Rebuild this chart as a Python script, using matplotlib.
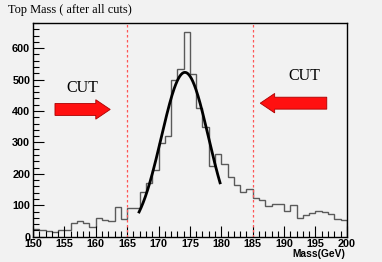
import numpy as np
import matplotlib
matplotlib.use("Agg")
import matplotlib.pyplot as plt
from matplotlib.patches import Polygon
from matplotlib.ticker import MultipleLocator
from matplotlib.transforms import ScaledTranslation

# histogram contents, 1 GeV bins from 150 to 200
bin_lo = 150
counts = [24, 21, 19, 14, 21, 21, 42, 49, 42, 30,
          59, 53, 51, 95, 55, 90, 92, 143, 170, 212,
          297, 320, 498, 533, 651, 517, 409, 350, 226, 262,
          231, 191, 164, 143, 151, 122, 116, 98, 103, 105,
          83, 101, 59, 69, 75, 81, 78, 72, 56, 53]
edges = np.arange(bin_lo, bin_lo + len(counts) + 1)

# gaussian fit on the peak
fit_amp = 523
fit_mean = 174.2
fit_sigma = 3.75
fit_range = (166.9, 179.8)

cut_lines = [165, 185]

bg = "#f2f2f2"
fig = plt.figure(figsize=(3.82, 2.62), dpi=100, facecolor=bg)
ax = fig.add_axes([0.0864, 0.0966, 0.8216, 0.8154], facecolor=bg)

ax.stairs(counts, edges, color="#5a5a5a", lw=1.0)

xf = np.linspace(fit_range[0], fit_range[1], 200)
yf = fit_amp * np.exp(-0.5 * ((xf - fit_mean) / fit_sigma) ** 2)
ax.plot(xf, yf, color="black", lw=2.0)

for c in cut_lines:
    ax.axvline(c, color="#ff5555", ls=(0, (2, 2)), lw=0.9)


def arrow(x_tail, x_tip, y, body_h, head_h, head_len):
    sgn = 1 if x_tip > x_tail else -1
    xb = x_tip - sgn * head_len
    pts = [(x_tail, y - body_h / 2), (xb, y - body_h / 2), (xb, y - head_h / 2),
           (x_tip, y), (xb, y + head_h / 2), (xb, y + body_h / 2),
           (x_tail, y + body_h / 2)]
    ax.add_patch(Polygon(pts, closed=True, facecolor="#ff1010",
                         edgecolor="#aa0000", lw=0.6, zorder=3))


arrow(153.5, 162.3, 405, 38, 62, 2.3)
arrow(196.8, 186.2, 425, 38, 62, 2.3)
ax.text(157.8, 472, "CUT", family="Liberation Serif", fontsize=11.5,
        ha="center", va="center")
ax.text(193.2, 510, "CUT", family="Liberation Serif", fontsize=11.5,
        ha="center", va="center")

ax.set_xlim(150, 200)
ax.set_ylim(0, 680)
ax.xaxis.set_major_locator(MultipleLocator(5))
ax.xaxis.set_minor_locator(MultipleLocator(1))
ax.yaxis.set_major_locator(MultipleLocator(100))
ax.yaxis.set_minor_locator(MultipleLocator(20))
ax.tick_params(which="both", direction="in", top=False, right=False,
               labelsize=7.8, width=0.8)
ax.tick_params(which="major", length=8, pad=2)
ax.tick_params(which="minor", length=4)
fig.canvas.draw()
for lab in ax.get_xticklabels() + ax.get_yticklabels():
    lab.set_fontweight("bold")
    lab.set_family("Liberation Sans")
# nudge the "0" label up a little, like ROOT puts it
ylabs = ax.get_yticklabels()
ylabs[0].set_transform(ylabs[0].get_transform()
                       + ScaledTranslation(0, 3 / 72, fig.dpi_scale_trans))
for s in ax.spines.values():
    s.set_linewidth(1.0)

fig.text(0.021, 0.962, "Top Mass ( after all cuts)", family="Liberation Serif",
         fontsize=8.9, ha="left", va="center")
fig.text(0.903, 0.03, "Mass(GeV)", family="Liberation Sans", fontweight="bold",
         fontsize=7.4, ha="right", va="center")

fig.savefig("out.png", dpi=100, facecolor=bg)
